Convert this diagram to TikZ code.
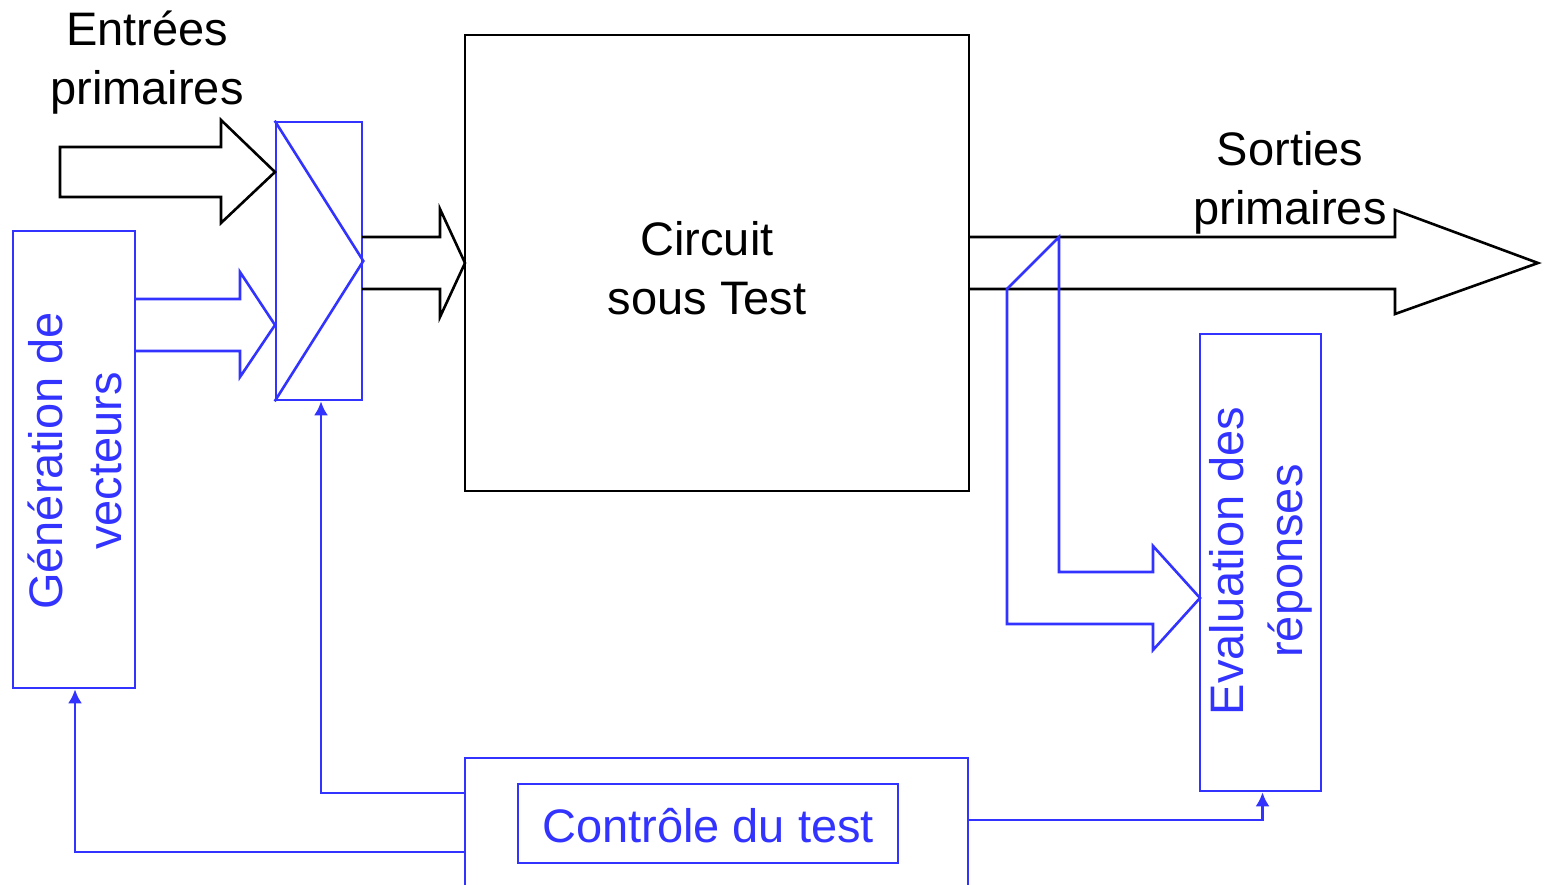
\documentclass[tikz,border=0pt]{standalone}
\usepackage{fontspec}
\setmainfont{Liberation Sans}
\usetikzlibrary{arrows.meta}
\definecolor{bl}{RGB}{51,51,255}
\begin{document}
\begin{tikzpicture}[x=0.5pt,y=-0.5pt,
  txt/.style={font=\fontsize{23.5}{29.5}\selectfont, align=center, inner sep=0pt},
  blbox/.style={draw=bl, line width=1.3pt, inner sep=0pt},
  bkbox/.style={draw=black, line width=1.3pt, inner sep=0pt},
  bline/.style={draw=bl, line width=1.3pt},
  kline/.style={draw=black, line width=1.3pt, line join=miter},
  conn/.style={draw=bl, line width=1.3pt, -{Latex[length=7pt,width=7pt]}}
]
\useasboundingbox (0,0) rectangle (1545,884);

% boxes
\node[bkbox, minimum width=252pt, minimum height=228pt] (cut) at (717,263) {};
\node[txt] (cutlbl) at (707,268) {Circuit\\sous Test};
\node[blbox, minimum width=61pt, minimum height=228.5pt] (gen) at (74,459.5) {};
\node[txt, text=bl, rotate=90] (genlbl) at (74.5,461) {Génération de\\vecteurs};
\node[blbox, minimum width=43pt, minimum height=139pt] (mux) at (319,261) {};
\node[blbox, minimum width=60.5pt, minimum height=228.5pt] (eval) at (1260.5,562.5) {};
\node[txt, text=bl, rotate=90] (evallbl) at (1261,561) {Evaluation des\\réponses};
\node[blbox, minimum width=190pt, minimum height=39.5pt] (ctrlin) at (708,823.5) {};
\node[txt, text=bl] (ctrllbl) at (708,826) {Contrôle du test};

% outer control box (open at bottom)
\draw[bline] (465,890) -- (465,758) -- (968,758) -- (968,890);
\coordinate (cw1) at (465,793);
\coordinate (cw2) at (465,852);
\coordinate (ce) at (968,820);

% labels
\node[txt] (inlbl) at (147,63) {Entrées\\primaires};
\node[txt] (outlbl) at (1290,183) {Sorties\\primaires};

% mux triangle
\draw[bline] (mux.north west) -- (mux.east) -- (mux.south west);

% block arrows
\draw[kline] (60,147) -- (221,147) -- (221,120) -- (275,172) -- (221,223) -- (221,197) -- (60,197) -- cycle;
\draw[bline] (135,299) -- (240,299) -- (240,272) -- (275,325) -- (240,377) -- (240,351) -- (135,351);
\draw[kline] (362,237) -- (440,237) -- (440,209) -- (465,263) -- (440,317) -- (440,289) -- (362,289);
\draw[kline] (969,237) -- (1395,237) -- (1395,210) -- (1538,263) -- (1395,314) -- (1395,289) -- (969,289);
\draw[bline] (1059,237) -- (1059,572) -- (1153,572) -- (1153,546) -- (1200,598) -- (1153,650) -- (1153,624) -- (1007,624) -- (1007,289) -- cycle;

% control connectors
\draw[conn] (cw1) -| ([xshift=1pt]mux.south);
\draw[conn] (cw2) -| ([xshift=0.5pt]gen.south);
\draw[conn] (ce) -| ([xshift=1pt]eval.south);
\end{tikzpicture}
\end{document}
